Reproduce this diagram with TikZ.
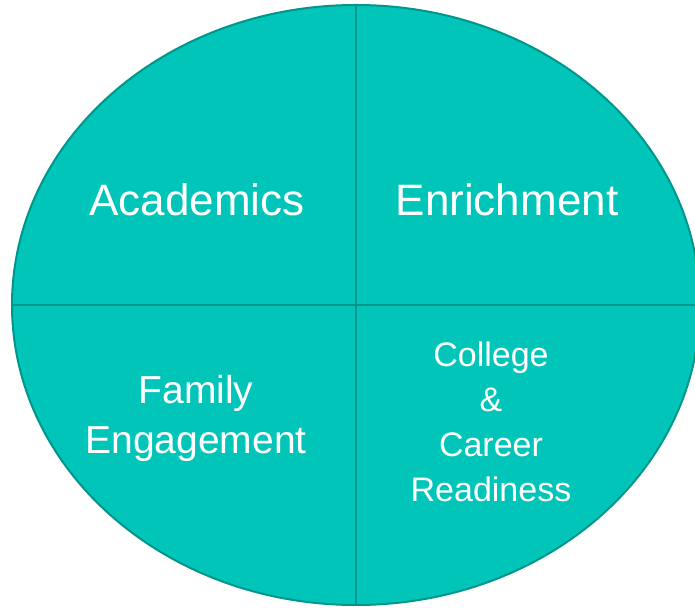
\documentclass[tikz,border=0pt]{standalone}
\usepackage{fontspec}
\setmainfont{Liberation Sans}
\definecolor{tealfill}{RGB}{2,197,186}
\definecolor{tealline}{RGB}{0,150,140}
\tikzset{
  lbl/.style={text=white, align=center, inner sep=0pt},
  big/.style={lbl, font=\fontsize{44}{50}\selectfont},
  mid/.style={lbl, font=\fontsize{39}{50}\selectfont},
  small/.style={lbl, font=\fontsize{34}{45}\selectfont},
}
\begin{document}
\begin{tikzpicture}[x=1pt,y=1pt]
\useasboundingbox (0,0) rectangle (695,607);
\begin{scope}
\clip (0,0) rectangle (695,607);
\fill[tealfill] (356,302) ellipse [x radius=344, y radius=300];
\begin{scope}
\clip (356,302) ellipse [x radius=344, y radius=300];
\draw[tealline, line width=2.5pt] (356,0) -- (356,607);
\draw[tealline, line width=2.5pt] (0,302) -- (695,302);
\end{scope}
\draw[tealline, line width=2pt] (356,302) ellipse [x radius=344, y radius=300];
\end{scope}
\node[big] (acad) at (197,407) {Academics};
\node[big] (enr) at (507,407) {Enrichment};
\node[mid] (fam) at (196,189) {Family\\Engagement};
\node[small] (ccr) at (491,185) {College\\\&\\Career\\Readiness};
\end{tikzpicture}
\end{document}
